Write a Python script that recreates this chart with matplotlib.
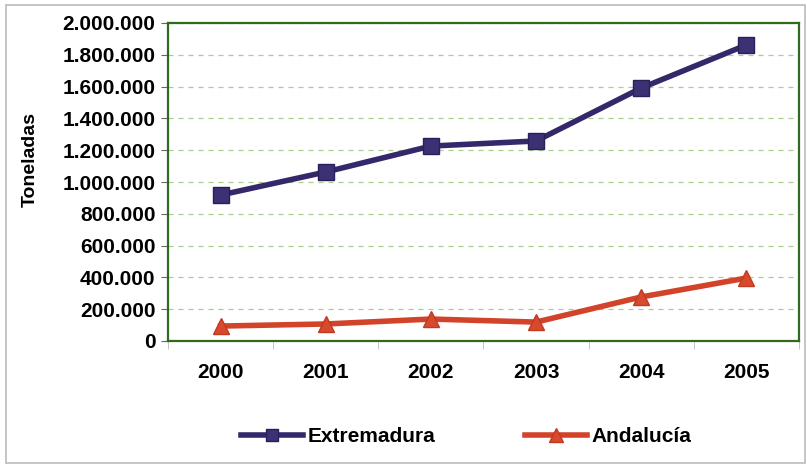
import matplotlib.pyplot as plt
from matplotlib.patches import Rectangle
from matplotlib.ticker import FuncFormatter

# Datos
anios = ['2000', '2001', '2002', '2003', '2004', '2005']
extremadura = [918000, 1063000, 1226000, 1258000, 1591000, 1862000]
andalucia = [94000, 107000, 138000, 119000, 277000, 396000]
yticks = range(0, 2000001, 200000)

plt.rcParams['font.family'] = ['Liberation Sans', 'DejaVu Sans']
plt.rcParams['font.weight'] = 'bold'

fig = plt.figure(figsize=(8.07, 4.66), dpi=100)
ax = fig.add_axes([168/807, 1 - 341/466, (799-168)/807, (341-23)/466])

x = range(len(anios))
ax.plot(x, extremadura, '-s', color='#35286a', lw=4, ms=11,
        mec='#2a1f5a', mfc='#3d3175', label='Extremadura')
ax.plot(x, andalucia, '-^', color='#d2432a', lw=4, ms=12,
        mec='#c13a22', mfc='#d84a2e', label='Andalucía')

ax.set_xlim(-0.5, 5.5)
ax.set_ylim(0, 2000000)
ax.set_yticks(list(yticks))
ax.yaxis.set_major_formatter(FuncFormatter(lambda v, p: f'{int(v):,}'.replace(',', '.')))
ax.set_xticks(list(x))
ax.set_xticklabels(anios)
ax.set_xticks([i - 0.5 for i in range(7)], minor=True)
ax.tick_params(axis='x', which='major', length=0, pad=16, labelsize=15)
ax.tick_params(axis='x', which='minor', length=6, color='#bbbbbb', direction='out')
ax.tick_params(axis='y', length=5, color='#666666', labelsize=15, pad=4)

ax.grid(axis='y', color='#a8cf8e', ls=(0, (4, 4)), lw=0.9)
for s in ax.spines.values():
    s.set_color('#2f6a1e')
    s.set_linewidth(1.6)

ax.set_ylabel('Toneladas', fontsize=14, fontweight='bold')
ax.yaxis.set_label_coords(-0.205, 0.57)

leg = fig.legend(loc='center', bbox_to_anchor=(466/807, 1 - 437/466), ncol=2,
                 frameon=False, fontsize=15, handlelength=3.0, markerscale=0.8,
                 columnspacing=4.3, handletextpad=0.2)

fig.patches.append(Rectangle((6/807, 3/466), 799/807, 458/466, transform=fig.transFigure,
                             fill=False, edgecolor='#bbbbbb', lw=1.2))

fig.savefig('out.png', dpi=100)
